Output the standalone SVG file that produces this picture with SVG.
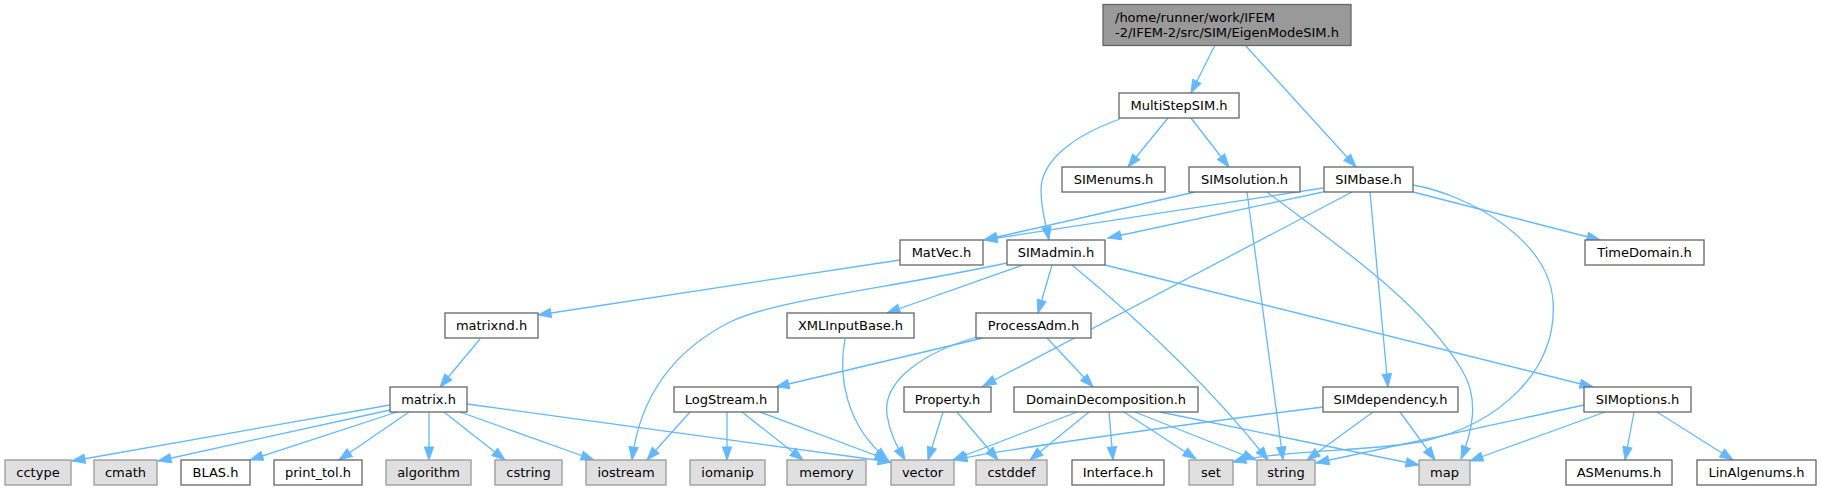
<svg xmlns="http://www.w3.org/2000/svg" width="1821" height="491" viewBox="0 0 1821 491">
<defs>
<style>
.n rect{fill:#ffffff;stroke:#666666;stroke-width:1.3}
.g rect{fill:#e0e0e0;stroke:#999999;stroke-width:1.3}
.r rect{fill:#999999;stroke:#666666;stroke-width:1.3}
text{font-family:"DejaVu Sans","Liberation Sans",sans-serif;font-size:13px;fill:#000000;text-anchor:middle}
.r text{text-anchor:start}
#edges path{fill:none;stroke:#63b8ff;stroke-width:1.3;marker-end:url(#ah)}
</style>
<marker id="ah" markerUnits="userSpaceOnUse" markerWidth="14" markerHeight="10" refX="13" refY="5" orient="auto" overflow="visible">
<path d="M0,0.4 L13,5 L0,9.6 z" fill="#63b8ff" stroke="#63b8ff" stroke-width="1"/>
</marker>
</defs>
<rect width="1821" height="491" fill="#ffffff"/>
<g id="edges">
<path d="M1215,45 L1191,93"/>
<path d="M1245,45 L1356,167"/>
<path d="M1168,118 L1128,167"/>
<path d="M1191,118 L1229,167"/>
<path d="M1120,119 C1075,135 1041,160 1041,190 C1041,210 1046,225 1049,240"/>
<path d="M1195,192 L984,240"/>
<path d="M1247,192 L1283,460"/>
<path d="M1267,192 C1330,240 1420,300 1462,370 C1480,400 1472,432 1461,459"/>
<path d="M1323,188 L984,240"/>
<path d="M1323,192 L1108,238"/>
<path d="M1352,192 L983,386"/>
<path d="M1370,192 L1388,387"/>
<path d="M1413,192 L1600,240"/>
<path d="M1413,185 C1470,195 1548,240 1553,300 C1558,370 1500,425 1420,442 C1360,452 1280,450 1233,462"/>
<path d="M1023,265 L887,313"/>
<path d="M1052,265 L1038,313"/>
<path d="M1007,263 C880,290 775,300 730,322 C675,350 640,395 632,460"/>
<path d="M1072,265 Q1190,362 1268,460"/>
<path d="M1105,265 L1593,387"/>
<path d="M900,260 L538,315"/>
<path d="M480,339 L440,387"/>
<path d="M390,405 L72,461"/>
<path d="M390,410 L158,461"/>
<path d="M397,412 L250,460"/>
<path d="M409,412 L339,460"/>
<path d="M429,412 L429,460"/>
<path d="M444,412 L505,460"/>
<path d="M460,412 L594,460"/>
<path d="M467,404 L891,462"/>
<path d="M690,412 L647,460"/>
<path d="M727,412 L727,460"/>
<path d="M742,412 L803,460"/>
<path d="M760,412 L888,460"/>
<path d="M845,339 C838,375 845,425 888,460"/>
<path d="M983,338 L776,387"/>
<path d="M1047,338 L1093,387"/>
<path d="M977,337 C925,352 882,380 887,415 C890,435 898,448 905,460"/>
<path d="M943,412 L928,460"/>
<path d="M957,412 L998,460"/>
<path d="M1077,412 L953,460"/>
<path d="M1089,412 L1030,460"/>
<path d="M1109,412 L1113,460"/>
<path d="M1124,412 L1196,459"/>
<path d="M1135,412 L1256,460"/>
<path d="M1160,412 L1419,465"/>
<path d="M1323,407 C1180,425 1000,450 954,460"/>
<path d="M1373,412 L1307,460"/>
<path d="M1400,412 L1435,460"/>
<path d="M1584,405 L1316,463"/>
<path d="M1605,412 L1470,461"/>
<path d="M1634,412 L1625,460"/>
<path d="M1657,412 L1733,460"/>
</g>
<g id="root" class="r"><rect x="1103" y="4.5" width="248" height="41"/><text x="1115" y="21.5">/home/runner/work/IFEM</text><text x="1115" y="36.5">-2/IFEM-2/src/SIM/EigenModeSIM.h</text></g>
<g id="MultiStepSIM" class="n"><rect x="1119" y="93" width="120" height="25"/><text x="1179" y="110">MultiStepSIM.h</text></g>
<g id="SIMenums" class="n"><rect x="1062" y="167" width="103" height="25"/><text x="1113.5" y="184">SIMenums.h</text></g>
<g id="SIMsolution" class="n"><rect x="1189" y="167" width="111" height="25"/><text x="1244.5" y="184">SIMsolution.h</text></g>
<g id="SIMbase" class="n"><rect x="1324" y="167" width="89" height="25"/><text x="1368.5" y="184">SIMbase.h</text></g>
<g id="TimeDomain" class="n"><rect x="1585" y="240" width="119" height="25"/><text x="1644.5" y="257">TimeDomain.h</text></g>
<g id="MatVec" class="n"><rect x="900" y="240" width="83" height="25"/><text x="941.5" y="257">MatVec.h</text></g>
<g id="SIMadmin" class="n"><rect x="1007" y="240" width="98" height="25"/><text x="1056" y="257">SIMadmin.h</text></g>
<g id="matrixnd" class="n"><rect x="445" y="313" width="93" height="25"/><text x="491.5" y="330">matrixnd.h</text></g>
<g id="XMLInputBase" class="n"><rect x="787" y="313" width="127" height="25"/><text x="850.5" y="330">XMLInputBase.h</text></g>
<g id="ProcessAdm" class="n"><rect x="976" y="313" width="115" height="25"/><text x="1033.5" y="330">ProcessAdm.h</text></g>
<g id="matrix" class="n"><rect x="390" y="387" width="77" height="25"/><text x="428.5" y="404">matrix.h</text></g>
<g id="LogStream" class="n"><rect x="674" y="387" width="104" height="25"/><text x="726" y="404">LogStream.h</text></g>
<g id="Property" class="n"><rect x="904" y="387" width="87" height="25"/><text x="947.5" y="404">Property.h</text></g>
<g id="DomainDecomposition" class="n"><rect x="1014" y="387" width="184" height="25"/><text x="1106" y="404">DomainDecomposition.h</text></g>
<g id="SIMdependency" class="n"><rect x="1323" y="387" width="135" height="25"/><text x="1390.5" y="404">SIMdependency.h</text></g>
<g id="SIMoptions" class="n"><rect x="1584" y="387" width="107" height="25"/><text x="1637.5" y="404">SIMoptions.h</text></g>
<g id="cctype" class="g"><rect x="5" y="460" width="66" height="25"/><text x="38" y="477">cctype</text></g>
<g id="cmath" class="g"><rect x="94" y="460" width="63" height="25"/><text x="125.5" y="477">cmath</text></g>
<g id="BLAS" class="n"><rect x="181" y="460" width="69" height="25"/><text x="215.5" y="477">BLAS.h</text></g>
<g id="print_tol" class="n"><rect x="274" y="460" width="88" height="25"/><text x="318" y="477">print_tol.h</text></g>
<g id="algorithm" class="g"><rect x="386" y="460" width="85" height="25"/><text x="428.5" y="477">algorithm</text></g>
<g id="cstring" class="g"><rect x="495" y="460" width="67" height="25"/><text x="528.5" y="477">cstring</text></g>
<g id="iostream" class="g"><rect x="586" y="460" width="80" height="25"/><text x="626" y="477">iostream</text></g>
<g id="iomanip" class="g"><rect x="690" y="460" width="75" height="25"/><text x="727.5" y="477">iomanip</text></g>
<g id="memory" class="g"><rect x="787" y="460" width="79" height="25"/><text x="826.5" y="477">memory</text></g>
<g id="vector" class="g"><rect x="891" y="460" width="63" height="25"/><text x="922.5" y="477">vector</text></g>
<g id="cstddef" class="g"><rect x="976" y="460" width="71" height="25"/><text x="1011.5" y="477">cstddef</text></g>
<g id="Interface" class="n"><rect x="1072" y="460" width="92" height="25"/><text x="1118" y="477">Interface.h</text></g>
<g id="set" class="g"><rect x="1189" y="460" width="44" height="25"/><text x="1211" y="477">set</text></g>
<g id="string" class="g"><rect x="1257" y="460" width="58" height="25"/><text x="1286" y="477">string</text></g>
<g id="map" class="g"><rect x="1419" y="460" width="51" height="25"/><text x="1444.5" y="477">map</text></g>
<g id="ASMenums" class="n"><rect x="1566" y="460" width="106" height="25"/><text x="1619" y="477">ASMenums.h</text></g>
<g id="LinAlgenums" class="n"><rect x="1697" y="460" width="119" height="25"/><text x="1756.5" y="477">LinAlgenums.h</text></g>
</svg>
